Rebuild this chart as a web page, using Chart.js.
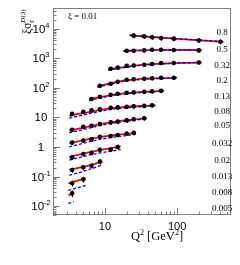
<!DOCTYPE html>
<html>
<head>
<meta charset="utf-8">
<script src="https://cdn.jsdelivr.net/npm/chart.js@4.4.0/dist/chart.umd.min.js"></script>
<style>
  html, body { margin: 0; padding: 0; background: #fff; }
</style>
</head>
<body>
<canvas id="chart" width="240" height="265"></canvas>
<script>
// xi = 0.01, one row per beta, each row already scaled for display
const betaLabels = ['0.8', '0.5', '0.32', '0.2', '0.13', '0.08', '0.05', '0.032', '0.02', '0.013', '0.008', '0.005']

const q2Data = [
  [25, 35, 45, 60, 90, 200, 400],
  [20, 25, 35, 45, 60, 90, 200],
  [12, 15, 20, 25, 35, 45, 60, 90, 200],
  [8.5, 12, 15, 20, 25, 35, 45, 60, 90],
  [6.5, 8.5, 12, 15, 20, 25, 35, 45, 60],
  [3.5, 5, 6.5, 8.5, 12, 15, 20, 25, 35, 45],
  [3.5, 5, 6.5, 8.5, 12, 15, 20, 25, 35],
  [3.5, 5, 6.5, 8.5, 12, 15, 20, 25],
  [3.5, 5, 6.5, 8.5, 12, 15],
  [3.5, 5, 6.5, 8.5],
  [3.5, 5],
  [3.5]
]

const sigmaData = [
  [5800, 5500, 5100, 4800, 4600, 4000, 3600],
  [1800, 1800, 1840, 1940, 1940, 1900, 1840],
  [440, 480, 560, 570, 600, 640, 690, 690, 720],
  [117, 137, 160, 187, 194, 202, 210, 218, 218],
  [42, 50, 58, 63, 68, 70, 73, 76, 79],
  [13.1, 15.4, 17.3, 18.7, 21, 21.8, 22.7, 23.6, 24.5, 25.5],
  [3.8, 4.8, 5.2, 6.0, 6.8, 7.2, 7.9, 8.6, 9.3],
  [1.40, 1.64, 1.82, 2.2, 2.35, 2.55, 2.85, 3.0],
  [0.45, 0.58, 0.64, 0.80, 0.82, 1.0],
  [0.166, 0.205, 0.232, 0.32],
  [0.059, 0.080],
  [0.027]
]

// relative error per row (bars barely stick out of the markers)
const sigmaErrRel = [0.18, 0.15, 0.15, 0.15, 0.15, 0.16, 0.16, 0.17, 0.18, 0.2, 0.22, 0.25]

// fit curves (red solid, blue dashed) sampled at a few Q2 values
const fitQ2 = [
  [22, 90, 440],
  [18, 60, 220],
  [11, 35, 220],
  [7.8, 20, 100],
  [6, 15, 66],
  [3.2, 12, 50],
  [3.2, 12, 38],
  [3.2, 8.5, 27],
  [3.2, 6.5, 16.5],
  [3.2, 5, 9.3],
  [3.1, 5.4],
  [3.1, 3.7]
]

const fitRed = [
  [5900, 4600, 3550],
  [1780, 1930, 1880],
  [424, 605, 730],
  [112, 180, 222],
  [41, 61, 80],
  [11.2, 20.2, 26],
  [3.6, 6.8, 9.4],
  [1.35, 2.15, 3.0],
  [0.46, 0.68, 1.04],
  [0.17, 0.21, 0.32],
  [0.059, 0.087],
  [0.0236, 0.0255]
]

const fitBlue = [
  [6000, 4650, 3700],
  [1720, 1900, 1880],
  [400, 590, 730],
  [105, 172, 218],
  [38, 58, 78],
  [9.5, 18.5, 25],
  [3.0, 6.2, 9.0],
  [1.0, 1.8, 2.7],
  [0.36, 0.55, 0.82],
  [0.11, 0.15, 0.25],
  [0.034, 0.05],
  [0.0124, 0.014]
]

// where the beta labels sit on the right (pixels)
const betaLabelY = [33, 50, 66, 81, 97, 112, 126, 144, 161, 177, 193, 209]

const sans = '"Liberation Sans", Arial, sans-serif'
const serif = '"Liberation Serif", "Times New Roman", serif'

const datasets = []
betaLabels.forEach((b, i) => {
  datasets.push({
    label: 'data ' + b,
    data: q2Data[i].map((q, k) => ({ x: q, y: sigmaData[i][k], err: sigmaData[i][k] * sigmaErrRel[i] })),
    showLine: false,
    pointRadius: 2.3,
    pointBackgroundColor: '#000',
    pointBorderColor: '#000',
    pointBorderWidth: 0,
    order: 0
  })
  datasets.push({
    label: 'fit ' + b,
    data: fitQ2[i].map((q, k) => ({ x: q, y: fitRed[i][k] })),
    showLine: true,
    borderColor: '#ff0000',
    borderWidth: 1.8,
    pointRadius: 0,
    cubicInterpolationMode: 'monotone',
    order: 2
  })
  datasets.push({
    label: 'fit2 ' + b,
    data: fitQ2[i].map((q, k) => ({ x: q, y: fitBlue[i][k] })),
    showLine: true,
    borderColor: '#0000ff',
    borderWidth: 1.3,
    borderDash: [3, 2],
    pointRadius: 0,
    cubicInterpolationMode: 'monotone',
    order: 1
  })
})

function supText(ctx, parts, x, y) {
  // parts: [text, size, dy, font]
  let cx = x
  parts.forEach(([t, size, dy, font]) => {
    ctx.font = size + 'px ' + (font || serif)
    ctx.fillText(t, cx, y + dy)
    cx += ctx.measureText(t).width
  })
  return cx - x
}

function partsWidth(ctx, parts) {
  let w = 0
  parts.forEach(([t, size, dy, font]) => {
    ctx.font = size + 'px ' + (font || serif)
    w += ctx.measureText(t).width
  })
  return w
}

// vertical error bars on the data points
const errorBars = {
  id: 'errorBars',
  afterDatasetsDraw(chart) {
    const ctx = chart.ctx
    const y = chart.scales.y
    ctx.save()
    ctx.strokeStyle = '#000'
    ctx.lineWidth = 1
    chart.data.datasets.forEach((ds, i) => {
      if (ds.showLine) return
      const meta = chart.getDatasetMeta(i)
      meta.data.forEach((pt, k) => {
        const d = ds.data[k]
        const px = Math.round(pt.x) + 0.5
        ctx.beginPath()
        ctx.moveTo(px, y.getPixelForValue(d.y + d.err))
        ctx.lineTo(px, y.getPixelForValue(d.y - d.err))
        ctx.stroke()
      })
    })
    ctx.restore()
  }
}

const decor = {
  id: 'decor',
  afterDraw(chart) {
    const { ctx, chartArea: a } = chart
    const x = chart.scales.x
    const y = chart.scales.y
    ctx.save()

    // frame
    ctx.strokeStyle = '#808080'
    ctx.lineWidth = 1
    ctx.strokeRect(a.left + 0.5, a.top + 0.5, a.right - a.left - 1, a.bottom - a.top - 1)

    // inward ticks
    ctx.beginPath()
    for (let e = -3; e <= 4; e++) {
      for (let m = 1; m <= 9; m++) {
        const v = m * Math.pow(10, e)
        if (v < y.min || v > y.max) continue
        const py = Math.round(y.getPixelForValue(v)) + 0.5
        const len = m === 1 ? 7 : 3.5
        ctx.moveTo(a.left, py)
        ctx.lineTo(a.left + len, py)
      }
    }
    for (let e = 0; e <= 2; e++) {
      for (let m = 1; m <= 9; m++) {
        const v = m * Math.pow(10, e)
        if (v < x.min || v > x.max) continue
        const px = Math.round(x.getPixelForValue(v)) + 0.5
        const len = m === 1 ? 7 : 3.5
        ctx.moveTo(px, a.bottom)
        ctx.lineTo(px, a.bottom - len)
      }
    }
    ctx.stroke()

    ctx.fillStyle = '#000'
    ctx.textBaseline = 'alphabetic'

    // y tick labels, centred in the margin like the original
    for (let e = -2; e <= 4; e++) {
      const py = y.getPixelForValue(Math.pow(10, e))
      let parts
      if (e === 0) parts = [['1', 11.5, 0, sans]]
      else if (e === 1) parts = [['10', 11.5, 0, sans]]
      else parts = [['10', 11.5, 0, sans], [String(e), 7.5, -5, sans]]
      const w = partsWidth(ctx, parts)
      supText(ctx, parts, 41 - w / 2, py + 4)
    }

    // x tick labels
    ctx.font = '11px ' + sans
    ctx.textAlign = 'center'
    ;[10, 100].forEach(v => {
      ctx.fillText(String(v), x.getPixelForValue(v), a.bottom + 15)
    })
    ctx.textAlign = 'left'

    // x title
    const xt = [['Q', 12.5, 0], ['2', 8, -5], [' [GeV', 12.5, 0], ['2', 8, -5], [']', 12.5, 0]]
    const xw = partsWidth(ctx, xt)
    supText(ctx, xt, 157 - xw / 2, 240)

    // y title, rotated
    ctx.save()
    ctx.translate(31, 34)
    ctx.rotate(-Math.PI / 2)
    ctx.font = '12px ' + serif
    ctx.fillText('ξσ', 0, 0)
    const w0 = ctx.measureText('ξσ').width
    ctx.font = '8px ' + serif
    ctx.fillText('r', w0, 3)
    ctx.font = '7px ' + serif
    ctx.fillText('D(3)', w0, -6)
    ctx.restore()

    // xi value
    ctx.font = '9px ' + serif
    ctx.textBaseline = 'middle'
    ctx.fillText('ξ = 0.01', 68, 17)

    // beta labels
    ctx.textAlign = 'center'
    betaLabels.forEach((b, i) => {
      ctx.fillText(b, 222, betaLabelY[i])
    })

    ctx.restore()
  }
}

new Chart(document.getElementById('chart'), {
  type: 'scatter',
  data: { datasets },
  options: {
    responsive: false,
    animation: false,
    devicePixelRatio: 1,
    layout: { padding: { left: 0, right: 9, top: 8, bottom: 0 } },
    plugins: { legend: { display: false }, tooltip: { enabled: false } },
    scales: {
      x: {
        type: 'logarithmic',
        min: 1.9,
        max: 560,
        grid: { display: false },
        border: { display: false },
        ticks: { display: false },
        afterFit(s) { s.height = 50 }
      },
      y: {
        type: 'logarithmic',
        min: 0.005,
        max: 50000,
        grid: { display: false },
        border: { display: false },
        ticks: { display: false },
        afterFit(s) { s.width = 53 }
      }
    }
  },
  plugins: [errorBars, decor]
})
</script>
</body>
</html>
